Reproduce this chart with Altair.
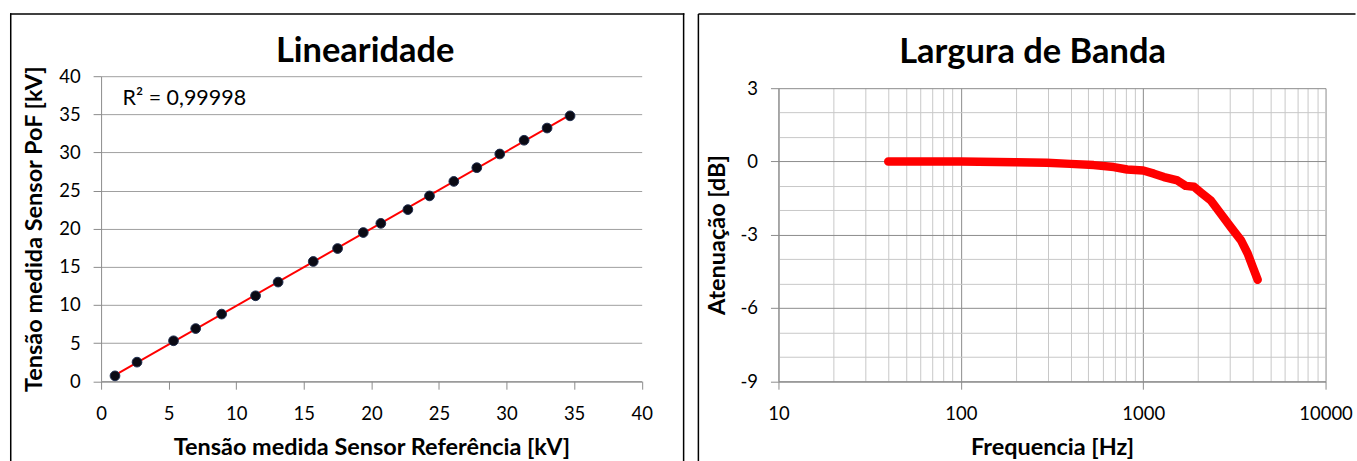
import altair as alt
import pandas as pd

# ---- Linearidade data ----
ref_kv = [1.03, 2.66, 5.36, 7.0, 8.92, 11.43, 13.1, 15.7, 17.5, 19.4, 20.7, 22.7, 24.3, 26.1, 27.8, 29.5, 31.3, 33.0, 34.7]
pof_kv = [0.7, 2.5, 5.3, 6.9, 8.8, 11.2, 13.0, 15.7, 17.4, 19.5, 20.7, 22.5, 24.3, 26.2, 28.0, 29.8, 31.6, 33.2, 34.8]
lin_ticks = [0, 5, 10, 15, 20, 25, 30, 35, 40]

# ---- Largura de Banda data ----
freq_hz = [40, 60, 100, 198, 296, 398, 535, 690, 817, 1000, 1145, 1300, 1540, 1710, 1900, 2070, 2350, 2670, 3030, 3440, 3740, 3980, 4245]
atten_db = [0.0, 0.0, 0.0, -0.03, -0.05, -0.1, -0.15, -0.23, -0.33, -0.37, -0.5, -0.64, -0.78, -1.0, -1.04, -1.27, -1.6, -2.15, -2.7, -3.23, -3.77, -4.3, -4.85]
freq_grid = [10, 20, 30, 40, 50, 60, 70, 80, 90,
             100, 200, 300, 400, 500, 600, 700, 800, 900,
             1000, 2000, 3000, 4000, 5000, 6000, 7000, 8000, 9000, 10000]
db_grid = [-9, -8, -7, -6, -5, -4, -3, -2, -1, 0, 1, 2, 3]

FONT = "Lato"
LW, LH = 541.5, 305.5
RW, RH = 548, 293.5

lin_df = pd.DataFrame({"ref": ref_kv, "pof": pof_kv})
bw_df = pd.DataFrame({"f": freq_hz, "db": atten_db})

x_lin = alt.X("ref:Q", scale=alt.Scale(domain=[0, 40], nice=False),
              axis=alt.Axis(values=lin_ticks, grid=False, labelOverlap=False, labelFlush=False,
                            labelPadding=15,
                            title="Tensão medida Sensor Referência [kV]",
                            titleX=LW / 2, titleY=66.5, titleBaseline="middle"))
y_lin = alt.Y("pof:Q", scale=alt.Scale(domain=[0, 40], nice=False),
              axis=alt.Axis(values=lin_ticks, grid=True, labelOverlap=False, labelFlush=False,
                            title="Tensão medida Sensor PoF [kV]",
                            titleX=-66.5, titleY=LH / 2, titleBaseline="middle"))

pts = alt.Chart(lin_df).mark_circle(size=95, color="#0a0a14", opacity=1,
                                     stroke="#1f2d4d", strokeWidth=1).encode(x=x_lin, y=y_lin)
trend = alt.Chart(lin_df).transform_regression("ref", "pof").mark_line(
    color="#ff0000", strokeWidth=2).encode(x=x_lin, y=y_lin)
r2 = alt.Chart(pd.DataFrame({"t": ["R² = 0,99998"]})).mark_text(
    align="left", baseline="middle", font=FONT, fontSize=21.5, color="#000").encode(
    text="t:N", x=alt.value(21.5), y=alt.value(23))
t1 = alt.Chart(pd.DataFrame({"t": ["Linearidade"]})).mark_text(
    align="center", baseline="alphabetic", font=FONT, fontSize=34.5, fontWeight="bold", color="#000").encode(
    text="t:N", x=alt.value(365 - 100.5), y=alt.value(61 - 75))
border_l = alt.Chart(pd.DataFrame({"k": ["l", "t", "r"],
                                   "x": [-90.5, -90.5, 583.5], "x2": [-90.5, 583.5, 583.5],
                                   "y": [-62.3, -62.3, -62.3], "y2": [386, -62.3, 386]})).mark_rule(
    color="#000", strokeWidth=1.5, strokeCap="square").encode(
    x=alt.X("x:Q", scale=None), x2="x2:Q", y=alt.Y("y:Q", scale=None), y2="y2:Q")

left = alt.layer(border_l, trend, pts, r2, t1).properties(width=LW, height=LH)

# right chart
major_x = "indexof([10,100,1000,10000], datum.value) >= 0"
major_y = "datum.value % 3 == 0"
x_bw = alt.X("f:Q", scale=alt.Scale(type="log", domain=[10, 10000], nice=False),
             axis=alt.Axis(values=freq_grid, grid=True, format="d",
                           labelExpr=f"{major_x} ? datum.label : ''", labelOverlap=False, labelBound=False,
                           labelFlush=False, labelPadding=15,
                           gridColor={"condition": {"test": major_x, "value": "#8c8c8c"}, "value": "#c8c8c8"},
                           tickOpacity={"condition": {"test": major_x, "value": 1}, "value": 0},
                           title="Frequencia [Hz]", titleX=RW / 2, titleY=66.5, titleBaseline="middle"))
y_bw = alt.Y("db:Q", scale=alt.Scale(domain=[-9, 3], nice=False),
             axis=alt.Axis(values=db_grid, grid=True,
                           labelExpr=f"{major_y} ? ('' + datum.value) : ''", labelOverlap=False,
                           labelFlush=False,
                           gridColor={"condition": {"test": major_y, "value": "#8c8c8c"}, "value": "#c8c8c8"},
                           tickOpacity={"condition": {"test": major_y, "value": 1}, "value": 0},
                           title="Atenuação [dB]", titleX=-61.5, titleY=RH / 2, titleBaseline="middle"))
curve = alt.Chart(bw_df).mark_line(color="#ff0000", strokeWidth=8.5, strokeCap="round",
                                   strokeJoin="round").encode(x=x_bw, y=y_bw)
t2 = alt.Chart(pd.DataFrame({"t": ["Largura de Banda"]})).mark_text(
    align="center", baseline="alphabetic", font=FONT, fontSize=34.5, fontWeight="bold", color="#000").encode(
    text="t:N", x=alt.value(1033 - 778.5), y=alt.value(62 - 87))
border_r = alt.Chart(pd.DataFrame({"k": ["l", "t"],
                                   "x": [-80.2, -80.2], "x2": [-80.2, 578],
                                   "y": [-74.3, -74.3], "y2": [374, -74.3]})).mark_rule(
    color="#000", strokeWidth=1.5, strokeCap="butt").encode(
    x=alt.X("x:Q", scale=None), x2="x2:Q", y=alt.Y("y:Q", scale=None), y2="y2:Q")
right = alt.layer(border_r, curve, t2).properties(width=RW, height=RH)

spacer = alt.Chart(pd.DataFrame({"a": [0]})).mark_point(opacity=0).encode(
    x=alt.value(0), y=alt.value(0)).properties(width=RW, height=12)

right_col = alt.vconcat(spacer, right, spacing=0, bounds="flush")

chart = alt.hconcat(left, right_col, spacing=778.5 - 100.5 - LW, bounds="flush").properties(
    padding={"left": 9.25, "top": 11.95, "right": 0, "bottom": 0},
    background="white",
).configure_view(strokeWidth=0).configure_axis(
    labelFont=FONT, labelFontSize=18.5, labelColor="#000", labelPadding=13,
    titleFont=FONT, titleFontSize=23.5, titleFontWeight="bold", titleColor="#000",
    domainColor="#8c8c8c", tickColor="#8c8c8c", tickSize=8, gridColor="#a0a0a0",
    domainWidth=1, tickWidth=1, gridWidth=1,
)

chart.save("out.html", embed_options={"renderer": "svg", "actions": False})
